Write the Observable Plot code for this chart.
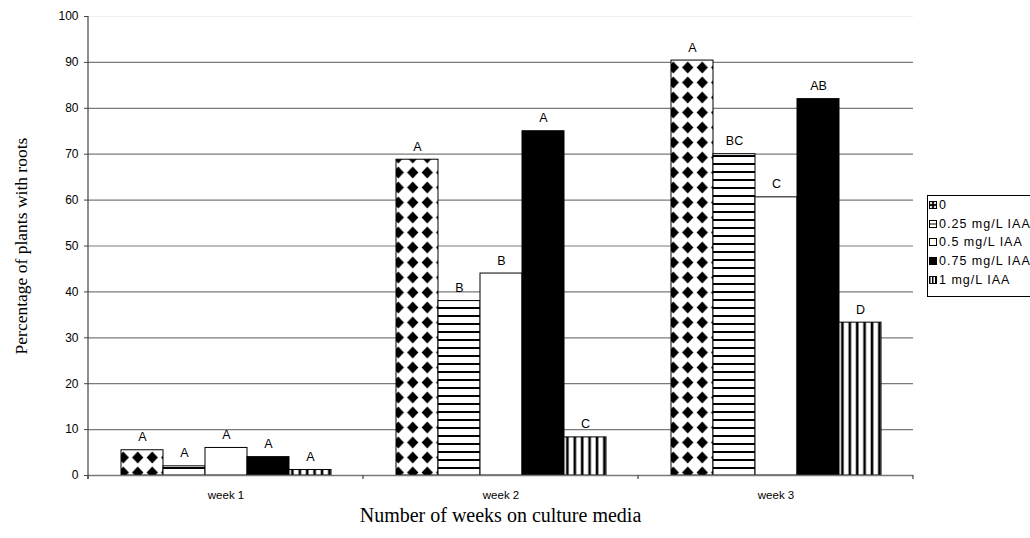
<!DOCTYPE html>
<html>
<head>
<meta charset="utf-8">
<script src="https://cdn.jsdelivr.net/npm/d3@7"></script>
<script src="https://cdn.jsdelivr.net/npm/@observablehq/plot@0.6"></script>
<style>
  html, body { margin: 0; padding: 0; background: #fff; overflow: hidden; }
  #wrap { position: relative; width: 1030px; height: 538px; }
  #legend {
    position: absolute; left: 927px; top: 195px; width: 130px; height: 102px;
    border: 1px solid #000; box-sizing: border-box; background: #fff;
    font: 12.5px "Liberation Sans", Arial, sans-serif; letter-spacing: 1px; color: #000;
    padding-top: 0px;
  }
  .item { height: 18.6px; display: flex; align-items: center; white-space: nowrap; }
  .item svg { margin-left: 1px; margin-right: 2px; flex: none; }
  #xlabel {
    position: absolute; left: 88px; width: 825px; top: 504px; text-align: center;
    font: 20px "Liberation Serif", "Times New Roman", serif;
  }
  #ylabel {
    position: absolute; left: 21px; top: 246px; transform: translate(-50%, -50%) rotate(-90deg);
    white-space: nowrap; font: 17.5px "Liberation Serif", "Times New Roman", serif;
  }
</style>
</head>
<body>
<svg width="0" height="0" style="position:absolute">
  <defs>
    <pattern id="p-diamond" patternUnits="userSpaceOnUse" width="14.5" height="15">
      <rect width="14.5" height="15" fill="#fff"/>
      <path d="M7.25,1.6 L12.9,7.5 L7.25,13.4 L1.6,7.5 Z" fill="#000"/>
    </pattern>
    <pattern id="p-hstripe" patternUnits="userSpaceOnUse" width="8" height="8">
      <rect width="8" height="8" fill="#fff"/>
      <rect y="3" width="8" height="2" fill="#000"/>
    </pattern>
    <pattern id="p-vstripe" patternUnits="userSpaceOnUse" width="7.4" height="8">
      <rect width="7.4" height="8" fill="#fff"/>
      <rect x="2.5" width="2.6" height="8" fill="#000"/>
    </pattern>
    <pattern id="s-diamond" patternUnits="userSpaceOnUse" width="4" height="4">
      <rect width="4" height="4" fill="#000"/>
      <path d="M2,0.5 L3.5,2 L2,3.5 L0.5,2Z" fill="#fff"/>
    </pattern>
    <pattern id="s-vstripe" patternUnits="userSpaceOnUse" width="3" height="3">
      <rect width="3" height="3" fill="#fff"/>
      <rect width="1.5" height="3" fill="#000"/>
    </pattern>
  </defs>
</svg>
<div id="wrap">
  <div id="chart"></div>
  <div id="legend"></div>
  <div id="ylabel">Percentage of plants with roots</div>
  <div id="xlabel">Number of weeks on culture media</div>
</div>
<script>
// ---- data ----
const weeks = ["week 1", "week 2", "week 3"];
const seriesNames = ["0", "0.25 mg/L IAA", "0.5 mg/L IAA", "0.75 mg/L IAA", "1 mg/L IAA"];
const values0   = [5.5, 68.8, 90.4];
const values025 = [2.0, 38.0, 70.0];
const values05  = [6.0, 44.0, 60.6];
const values075 = [4.0, 75.0, 82.0];
const values1   = [1.2, 8.3, 33.3];
const letters0   = ["A", "A", "A"];
const letters025 = ["A", "B", "BC"];
const letters05  = ["A", "B", "C"];
const letters075 = ["A", "A", "AB"];
const letters1   = ["A", "C", "D"];
const yTicks = [0, 10, 20, 30, 40, 50, 60, 70, 80, 90, 100];

// ---- styles ----
const fills = ["url(#p-diamond)", "url(#p-hstripe)", "#fff", "#000", "url(#p-vstripe)"];

const allValues = [values0, values025, values05, values075, values1];
const allLetters = [letters0, letters025, letters05, letters075, letters1];
const data = [];
seriesNames.forEach((s, i) => weeks.forEach((w, j) => data.push({
  week: w, series: s, value: allValues[i][j], letter: allLetters[i][j], fill: fills[i]
})));

const ML = 88, MR = 117, MT = 16, MB = 63;
const font = '"Liberation Sans", Arial, sans-serif';

const plot = Plot.plot({
  width: 1030, height: 538,
  marginLeft: ML, marginRight: MR, marginTop: MT, marginBottom: MB,
  style: { fontFamily: font, background: "#fff", overflow: "visible" },
  fx: { domain: weeks, padding: 0, label: null },
  x: { domain: seriesNames, paddingInner: 0, paddingOuter: 0.71, axis: null },
  y: { domain: [0, 100], axis: null },
  color: { type: "identity" },
  marks: [
    Plot.ruleY(yTicks.filter(t => t > 0 && t < 100), { stroke: "#7a7a7a", strokeWidth: 1.2 }),
    Plot.ruleY([100], { stroke: "#eeeeee", strokeWidth: 1 }),
    Plot.barY(data, { fx: "week", x: "series", y: "value", fill: "fill", stroke: "#000", strokeWidth: 1 }),
    Plot.ruleY([0], { stroke: "#7a7a7a", strokeWidth: 1.4 }),
    Plot.text(data, { fx: "week", x: "series", y: "value", text: "letter", lineAnchor: "bottom", dy: -9, fontSize: 12.5, fill: "#000" }),
    Plot.axisY(yTicks, { anchor: "left", tickSize: 4, tickPadding: 6, fontSize: 12, stroke: "#444", label: null, color: "#000" }),
    Plot.axisFx({ anchor: "bottom", tickSize: 0, tickPadding: 15, fontSize: 11.5, label: null })
  ]
});
document.getElementById("chart").appendChild(plot);

// y-axis line and category boundary ticks, placed through the plot's scales
const svg = d3.select(plot);
const y = plot.scale("y");
const fx = plot.scale("fx");
svg.append("line")
  .attr("x1", ML).attr("x2", ML)
  .attr("y1", y.apply(0) + 4).attr("y2", y.apply(100))
  .attr("stroke", "#444").attr("stroke-width", 1.2);
const bounds = weeks.map(w => fx.apply(w)).concat([fx.apply(weeks[weeks.length - 1]) + fx.bandwidth]);
bounds.forEach(b => {
  svg.append("line")
    .attr("x1", b).attr("x2", b)
    .attr("y1", y.apply(0)).attr("y2", y.apply(0) + 4)
    .attr("stroke", "#444").attr("stroke-width", 1.2);
});

// legend
const swatches = [
  '<rect x="0.5" y="0.5" width="7" height="7" fill="url(#s-diamond)" stroke="#000"/>',
  '<rect x="0.5" y="0.5" width="7" height="7" fill="#fff" stroke="#000"/><line x1="0.5" x2="7.5" y1="4" y2="4" stroke="#000"/>',
  '<rect x="0.5" y="0.5" width="7" height="7" fill="#fff" stroke="#000"/>',
  '<rect x="0.5" y="0.5" width="7" height="7" fill="#000" stroke="#000"/>',
  '<rect x="0.5" y="0.5" width="7" height="7" fill="url(#s-vstripe)" stroke="#000"/>'
];
const legend = document.getElementById("legend");
seriesNames.forEach((s, i) => {
  const div = document.createElement("div");
  div.className = "item";
  div.innerHTML = `<svg width="8" height="8">${swatches[i]}</svg><span>${s}</span>`;
  legend.appendChild(div);
});
</script>
</body>
</html>
